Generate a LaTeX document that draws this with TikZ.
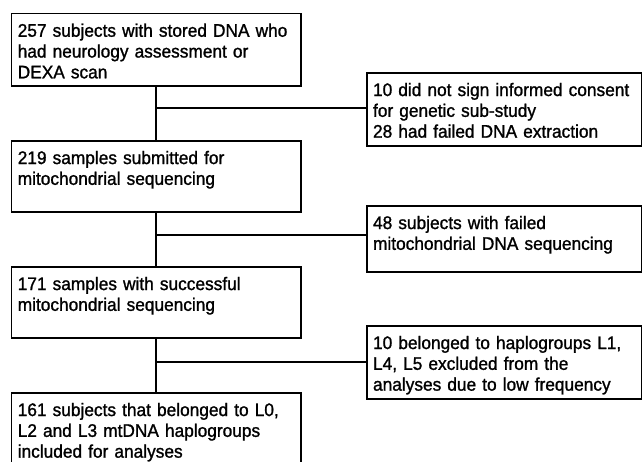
\documentclass[tikz,border=0pt]{standalone}
\usepackage{fontspec}
\setmainfont{Liberation Sans}[FakeStretch=0.95,FakeBold=1.2]
\hyphenpenalty=10000
\exhyphenpenalty=10000
\begin{document}
\begin{tikzpicture}[x=1pt,y=-1pt,
    stage/.style={draw,line width=1.5pt,anchor=north west,align=left,
      inner xsep=6.3pt,inner ysep=0pt,text width=276.9pt,text height=23.3pt,
      font=\fontsize{18.2}{20.8}\selectfont},
    excl/.style={stage,text width=262.4pt},
    link/.style={line width=1.5pt}]

    \clip(0,0)rectangle(642,461);

    \node[stage,text depth=49pt](start)at(10.7,12.7){257 subjects with stored DNA who\\had neurology assessment or\\DEXA scan};
    \node[stage,text depth=47.7pt](submitted)at(10.7,140){219 samples submitted for\\mitochondrial sequencing};
    \node[stage,text depth=47.7pt](success)at(10.7,266){171 samples with successful\\mitochondrial sequencing};
    \node[stage,text depth=80pt](included)at(10.7,392){161 subjects that belonged to L0,\\L2 and L3 mtDNA haplogroups\\included for analyses};

    \node[excl,text depth=49.7pt](consent)at(366,72){10 did not sign informed consent\\for genetic sub-study\\28 had failed DNA extraction};
    \node[excl,text depth=42.7pt](failseq)at(366,205){48 subjects with failed\\mitochondrial DNA sequencing};
    \node[excl,text depth=49.7pt](lowfreq)at(366,325){10 belonged to haplogroups L1,\\L4, L5 excluded from the\\analyses due to low frequency};

    \coordinate(j1)at(155.3,108);
    \coordinate(j2)at(155.3,235);
    \coordinate(j3)at(155.3,362);

    \draw[link](start)--(submitted);
    \draw[link](submitted)--(success);
    \draw[link](success)--(included);
    \draw[link](j1)--(j1-|consent.west);
    \draw[link](j2)--(j2-|failseq.west);
    \draw[link](j3)--(j3-|lowfreq.west);
  \end{tikzpicture}
\end{document}
